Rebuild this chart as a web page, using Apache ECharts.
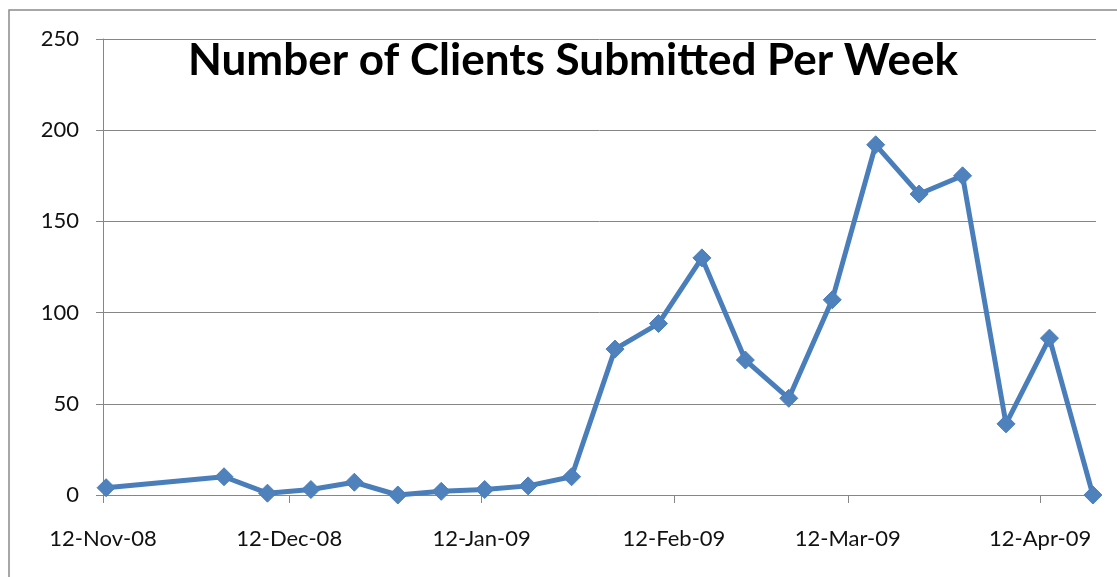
<!DOCTYPE html>
<html lang="en">
<head>
    <meta charset="utf-8">
    <title>Number of Clients Submitted Per Week</title>
    <script src="https://cdn.jsdelivr.net/npm/echarts@6/dist/echarts.min.js"></script>
    <style>
        html, body { margin: 0; padding: 0; background: #fff; }
        #chart { width: 1117px; height: 577px; }
    </style>
</head>
<body>
<div id="chart"></div>
<script type="text/javascript">
    // weekly submissions
    var weekDates = ['2008-11-12', '2008-12-01', '2008-12-08', '2008-12-15', '2008-12-22', '2008-12-29',
        '2009-01-05', '2009-01-12', '2009-01-19', '2009-01-26', '2009-02-02', '2009-02-09',
        '2009-02-16', '2009-02-23', '2009-03-02', '2009-03-09', '2009-03-16', '2009-03-23',
        '2009-03-30', '2009-04-06', '2009-04-13', '2009-04-20'];
    var clients = [4, 10, 1, 3, 7, 0, 2, 3, 5, 10, 80, 94, 130, 74, 53, 107, 192, 165, 175, 39, 86, 0];

    // x axis ticks
    var tickDates = ['2008-11-12', '2008-12-12', '2009-01-12', '2009-02-12', '2009-03-12', '2009-04-12'];
    var tickLabels = ['12-Nov-08', '12-Dec-08', '12-Jan-09', '12-Feb-09', '12-Mar-09', '12-Apr-09'];
    var axisStart = '2008-11-12';
    var axisEnd = '2009-04-21';

    var DAY = 24 * 3600 * 1000;
    function ts(s) {
        var p = s.split('-');
        return Date.UTC(+p[0], +p[1] - 1, +p[2]);
    }

    var tickValues = tickDates.map(ts);
    var seriesData = [];
    for (var i = 0; i < weekDates.length; i++) {
        // points sit in the middle of their day, like the original date axis
        seriesData.push([ts(weekDates[i]) + DAY / 2, clients[i]]);
    }

    var gray = '#868686';
    var chart = echarts.init(document.getElementById('chart'), null, { renderer: 'canvas' });
    var option = {
        backgroundColor: '#fff',
        animation: false,
        graphic: [{
            type: 'rect',
            shape: { x: 9, y: 10, width: 1200, height: 700 },
            style: { fill: 'none', stroke: '#8a8a8a', lineWidth: 1.5 },
            silent: true,
            z: -1
        }],
        title: {
            text: 'Number of Clients Submitted Per Week',
            left: 568,
            top: 34,
            textAlign: 'center',
            textStyle: {
                fontFamily: 'Lato',
                fontWeight: 'bold',
                fontSize: 44,
                color: '#000'
            }
        },
        grid: {
            left: 103,
            right: 21,
            top: 39,
            bottom: 82
        },
        xAxis: {
            type: 'value',
            min: ts(axisStart),
            max: ts(axisEnd),
            axisLine: { show: true, lineStyle: { color: gray, width: 1 } },
            axisTick: {
                show: true,
                length: 8,
                customValues: tickValues,
                lineStyle: { color: gray }
            },
            axisLabel: {
                customValues: tickValues,
                margin: 33,
                fontFamily: 'Lato',
                fontSize: 22,
                color: '#111',
                formatter: function (v) {
                    var idx = tickValues.indexOf(v);
                    return idx >= 0 ? tickLabels[idx] : '';
                }
            },
            splitLine: { show: false }
        },
        yAxis: {
            type: 'value',
            min: 0,
            max: 250,
            interval: 50,
            axisLine: { show: true, lineStyle: { color: gray, width: 1 } },
            axisTick: { show: true, length: 7, lineStyle: { color: gray } },
            axisLabel: {
                margin: 24,
                fontFamily: 'Lato',
                fontSize: 22,
                color: '#111'
            },
            splitLine: { show: true, lineStyle: { color: gray, width: 1 } }
        },
        series: [{
            name: 'Clients',
            type: 'line',
            data: seriesData,
            symbol: 'diamond',
            symbolSize: 18,
            lineStyle: { color: '#4a7ebb', width: 5 },
            itemStyle: { color: '#4f81bd', borderColor: '#4a7ebb', borderWidth: 1 }
        }]
    };
    chart.setOption(option);
</script>
</body>
</html>
